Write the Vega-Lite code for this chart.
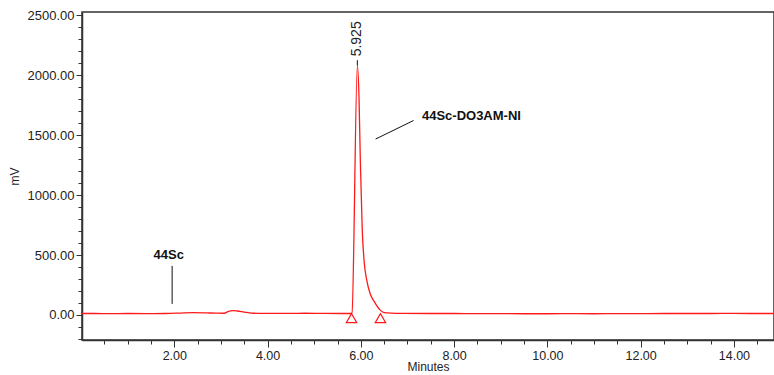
{
  "$schema": "https://vega.github.io/schema/vega-lite/v6.json",
  "width": 692,
  "height": 328,
  "autosize": {"type": "none"},
  "padding": {"left": 82, "top": 12, "right": 0, "bottom": 35},
  "background": "white",
  "config": {
    "font": "Liberation Sans",
    "view": {"stroke": "#333333", "strokeWidth": 1.5}
  },
  "datasets": {
    "trace": [
      {"t": 0.02, "mV": 12}, {"t": 0.3, "mV": 12}, {"t": 0.6, "mV": 11}, {"t": 1.0, "mV": 12},
      {"t": 1.4, "mV": 11}, {"t": 1.8, "mV": 12}, {"t": 2.1, "mV": 15}, {"t": 2.4, "mV": 19},
      {"t": 2.7, "mV": 17}, {"t": 2.9, "mV": 15}, {"t": 3.07, "mV": 14}, {"t": 3.15, "mV": 28},
      {"t": 3.25, "mV": 36}, {"t": 3.35, "mV": 33}, {"t": 3.5, "mV": 24}, {"t": 3.65, "mV": 16},
      {"t": 3.9, "mV": 13}, {"t": 4.3, "mV": 13}, {"t": 4.8, "mV": 14}, {"t": 5.2, "mV": 13},
      {"t": 5.6, "mV": 12}, {"t": 5.78, "mV": 12}, {"t": 5.81, "mV": 17}, {"t": 5.925, "mV": 2080},
      {"t": 5.96, "mV": 1821}, {"t": 5.99, "mV": 1265}, {"t": 6.03, "mV": 709}, {"t": 6.074, "mV": 431},
      {"t": 6.125, "mV": 292}, {"t": 6.196, "mV": 181}, {"t": 6.288, "mV": 111}, {"t": 6.41, "mV": 42},
      {"t": 6.5, "mV": 20}, {"t": 6.65, "mV": 15}, {"t": 6.9, "mV": 13}, {"t": 7.5, "mV": 12},
      {"t": 8.0, "mV": 12}, {"t": 8.5, "mV": 11}, {"t": 9.0, "mV": 11}, {"t": 9.5, "mV": 10},
      {"t": 10.0, "mV": 10}, {"t": 10.5, "mV": 11}, {"t": 11.0, "mV": 10}, {"t": 11.5, "mV": 11},
      {"t": 12.0, "mV": 11}, {"t": 12.5, "mV": 12}, {"t": 13.0, "mV": 12}, {"t": 13.5, "mV": 12},
      {"t": 14.0, "mV": 13}, {"t": 14.5, "mV": 12}, {"t": 14.86, "mV": 12}
    ],
    "markers": [
      {"t": 5.80, "mV": -27},
      {"t": 6.42, "mV": -27}
    ],
    "leaders": [
      {"t": 1.953, "mV": 92, "t2": 1.953, "mV2": 409},
      {"t": 6.316, "mV": 1467, "t2": 7.13, "mV2": 1622},
      {"t": 5.925, "mV": 2080, "t2": 5.925, "mV2": 2125}
    ],
    "names": [
      {"t": 1.88, "mV": 503, "label": "44Sc"}
    ],
    "names2": [
      {"t": 7.31, "mV": 1656, "label": "44Sc-DO3AM-NI"}
    ],
    "peaks": [
      {"t": 5.925, "mV": 2157, "label": "5.925"}
    ]
  },
  "layer": [
    {
      "data": {"name": "trace"},
      "mark": {"type": "line", "color": "#ff1a1a", "strokeWidth": 1.3, "clip": true, "interpolate": "monotone"},
      "encoding": {
        "x": {
          "field": "t", "type": "quantitative",
          "scale": {"domain": [0.02, 14.86], "nice": false, "zero": false},
          "axis": {
            "title": "Minutes",
            "titleFontSize": 12, "titleFontWeight": "normal", "titleColor": "#222222", "titlePadding": 0,
            "values": [0.5,1,1.5,2,2.5,3,3.5,4,4.5,5,5.5,6,6.5,7,7.5,8,8.5,9,9.5,10,10.5,11,11.5,12,12.5,13,13.5,14,14.5],
            "tickCount": 200,
            "labelExpr": "datum.value % 2 === 0 ? format(datum.value, '.2f') : ''",
            "labelFontSize": 12.5, "labelColor": "#222222", "labelOverlap": false, "labelFlush": false, "labelPadding": 2,
            "tickSize": {"condition": {"test": "datum.value % 2 === 0", "value": 7}, "value": 4},
            "tickColor": "#333333", "domainColor": "#333333", "domainWidth": 1.5,
            "grid": false
          }
        },
        "y": {
          "field": "mV", "type": "quantitative",
          "scale": {"domain": [-209, 2527], "nice": false, "zero": false},
          "axis": {
            "title": "mV",
            "titleFontSize": 12, "titleFontWeight": "normal", "titleColor": "#222222", "titlePadding": 6,
            "values": [-200,-100,0,100,200,300,400,500,600,700,800,900,1000,1100,1200,1300,1400,1500,1600,1700,1800,1900,2000,2100,2200,2300,2400,2500],
            "tickCount": 200,
            "labelExpr": "datum.value % 500 === 0 ? format(datum.value, '.2f') : ''",
            "labelFontSize": 13, "labelColor": "#222222", "labelOverlap": false, "labelFlush": false, "labelPadding": 2,
            "tickSize": {"condition": {"test": "datum.value % 500 === 0", "value": 6}, "value": 4},
            "tickColor": "#333333", "domainColor": "#333333", "domainWidth": 1.5,
            "grid": false
          }
        }
      }
    },
    {
      "data": {"name": "markers"},
      "mark": {"type": "point", "shape": "triangle-up", "size": 110, "filled": false, "color": "#ff1a1a", "strokeWidth": 1.2, "opacity": 1},
      "encoding": {
        "x": {"field": "t", "type": "quantitative"},
        "y": {"field": "mV", "type": "quantitative"}
      }
    },
    {
      "data": {"name": "leaders"},
      "mark": {"type": "rule", "color": "#111111", "strokeWidth": 1},
      "encoding": {
        "x": {"field": "t", "type": "quantitative"},
        "y": {"field": "mV", "type": "quantitative"},
        "x2": {"field": "t2"},
        "y2": {"field": "mV2"}
      }
    },
    {
      "data": {"name": "names"},
      "mark": {"type": "text", "fontSize": 13, "fontWeight": "bold", "color": "#111111", "baseline": "middle", "align": "center"},
      "encoding": {
        "x": {"field": "t", "type": "quantitative"},
        "y": {"field": "mV", "type": "quantitative"},
        "text": {"field": "label"}
      }
    },
    {
      "data": {"name": "names2"},
      "mark": {"type": "text", "fontSize": 13, "fontWeight": "bold", "color": "#111111", "baseline": "middle", "align": "left"},
      "encoding": {
        "x": {"field": "t", "type": "quantitative"},
        "y": {"field": "mV", "type": "quantitative"},
        "text": {"field": "label"}
      }
    },
    {
      "data": {"name": "peaks"},
      "mark": {"type": "text", "fontSize": 14, "color": "#222222", "angle": 270, "align": "left", "baseline": "middle"},
      "encoding": {
        "x": {"field": "t", "type": "quantitative"},
        "y": {"field": "mV", "type": "quantitative"},
        "text": {"field": "label"}
      }
    }
  ]
}
